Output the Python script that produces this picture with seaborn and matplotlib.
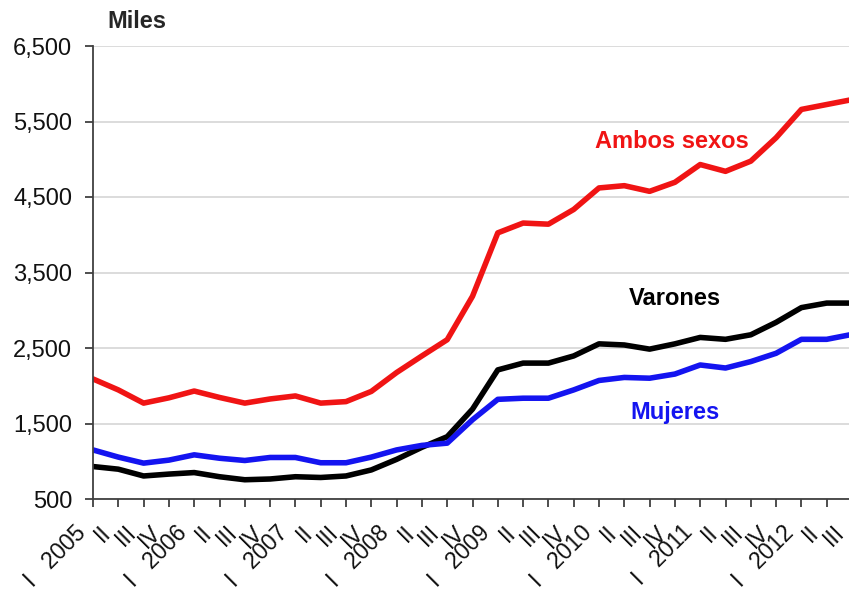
import matplotlib
matplotlib.use('Agg')
import pandas as pd
import matplotlib.pyplot as plt
import seaborn as sns
from matplotlib.ticker import FuncFormatter
from matplotlib.transforms import ScaledTranslation

sns.set_theme(style="white")
plt.rcParams['font.family'] = ['Liberation Sans', 'DejaVu Sans']

# Trimestres 2005 I - 2012 III
tick_labels = [
    'I   2005', 'II', 'III', 'IV',
    'I   2006', 'II', 'III', 'IV',
    'I   2007', 'II', 'III', 'IV',
    'I   2008', 'II', 'III', 'IV',
    'I   2009', 'II', 'III', 'IV',
    'I   2010', 'II', 'III', 'IV',
    'I   2011', 'II', 'III', 'IV',
    'I   2012', 'II', 'III',
]

# Miles de personas
ambos = [2090, 1945, 1770, 1840, 1930, 1845, 1770, 1825, 1865, 1770, 1790,
         1925, 2175, 2395, 2610, 3185, 4025, 4155, 4140, 4335, 4620, 4650,
         4575, 4695, 4930, 4840, 4975, 5285, 5660, 5725, 5790]
varones = [930, 895, 805, 830, 850, 795, 755, 765, 795, 785, 805,
           885, 1025, 1185, 1325, 1690, 2210, 2300, 2300, 2395, 2555, 2540,
           2485, 2555, 2640, 2615, 2675, 2840, 3035, 3095, 3095]
mujeres = [1150, 1055, 975, 1015, 1085, 1040, 1010, 1050, 1050, 980, 980,
           1055, 1150, 1210, 1240, 1550, 1820, 1835, 1835, 1945, 2070, 2110,
           2100, 2155, 2275, 2235, 2320, 2430, 2615, 2615, 2680]

series = ['Ambos sexos', 'Varones', 'Mujeres']
colors = {'Ambos sexos': '#f01414', 'Varones': '#000000', 'Mujeres': '#1414f0'}

n = len(tick_labels)
df = pd.DataFrame({
    'periodo': list(range(n)) * 3,
    'valor': ambos + varones + mujeres,
    'serie': [s for s in series for _ in range(n)],
})

fig = plt.figure(figsize=(8.49, 5.90), dpi=100)
ax = fig.add_axes([93 / 849, 91 / 590, (852 - 93) / 849, 453 / 590])

sns.lineplot(data=df, x='periodo', y='valor', hue='serie', hue_order=series,
             palette=colors, linewidth=4, legend=False, ax=ax)

ax.set_xlim(0, 30)
ax.set_ylim(500, 6500)
ax.set_yticks(range(500, 6501, 1000))
ax.yaxis.set_major_formatter(FuncFormatter(lambda v, p: f'{int(v):,}'))

ax.set_xlabel('')
ax.set_ylabel('')
ax.yaxis.grid(True, color='#d9d9d9', lw=1.3)
ax.set_axisbelow(True)
for side in ['top', 'right']:
    ax.spines[side].set_visible(False)
for side in ['left', 'bottom']:
    ax.spines[side].set_color('#404040')
    ax.spines[side].set_linewidth(1.3)
ax.tick_params(axis='y', left=True, length=6, width=1.3, color='#404040',
               pad=9, labelsize=17, labelcolor='#111111')
ax.tick_params(axis='x', bottom=True, length=6, width=1.3, color='#404040',
               pad=2, labelsize=16.5, labelcolor='#111111')

# etiquetas del eje x giradas, después de tick_params para que no se reinicie el desplazamiento
ax.set_xticks(range(n))
ax.set_xticklabels(tick_labels, rotation=45, ha='right', va='center',
                   rotation_mode='anchor')
offset = ScaledTranslation(-0.11, -0.19, fig.dpi_scale_trans)
for lab in ax.get_xticklabels():
    lab.set_transform(lab.get_transform() + offset)

fig.text(107 / 849, 1 - 28 / 590, 'Miles', fontsize=17, fontweight='bold',
         va='baseline', ha='left')

ax.text(22.9, 5240, 'Ambos sexos', color=colors['Ambos sexos'], fontsize=17,
        fontweight='bold', ha='center', va='center')
ax.text(23.0, 3150, 'Varones', color=colors['Varones'], fontsize=17,
        fontweight='bold', ha='center', va='center')
ax.text(23.0, 1640, 'Mujeres', color=colors['Mujeres'], fontsize=17,
        fontweight='bold', ha='center', va='center')

fig.savefig('out.png', dpi=100)
